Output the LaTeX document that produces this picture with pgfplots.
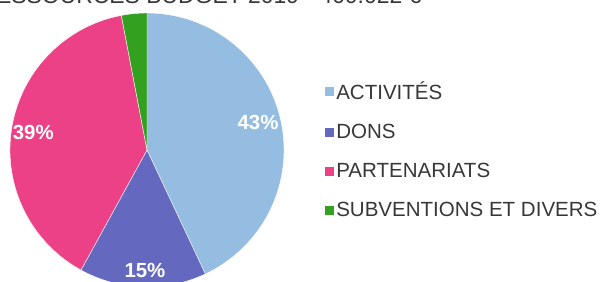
\documentclass[border=0pt]{standalone}
\usepackage{fontspec}
\setmainfont{Liberation Sans}
\usepackage{pgfplots}
\pgfplotsset{compat=1.18}
\definecolor{cAct}{RGB}{149,189,226}
\definecolor{cDon}{RGB}{100,104,190}
\definecolor{cPar}{RGB}{236,64,135}
\definecolor{cSub}{RGB}{52,160,32}
\definecolor{txt}{RGB}{55,55,55}
% shares (%): Activites 43, Dons 15, Partenariats 39, Subventions et divers 3
% slices run clockwise from 90 deg: 3.6 deg per percent
\begin{document}
\begin{tikzpicture}[x=1bp,y=1bp]
\useasboundingbox (0,0) rectangle (604,281);
\clip (0,0) rectangle (604,281);
\begin{axis}[at={(147bp,131bp)}, anchor=center, width=274bp, height=274bp,
  scale only axis, hide axis, xmin=-1, xmax=1, ymin=-1, ymax=1, clip=false,
  legend cell align=left,
  legend image code/.code={\fill[#1,draw=none] (0bp,-4.5bp) rectangle (9bp,4.5bp);},
  legend style={at={(rel axis cs:1.148,0.755)}, anchor=north west, draw=none, fill=none,
    font=\fontsize{20.6}{20.6}\selectfont, text=txt, row sep=20.3bp, inner sep=0pt,
    nodes={inner xsep=2.5bp, inner ysep=1.5bp}},
]
\addplot[fill=cAct, draw=white, line width=0.4pt, domain=-64.8:90, samples=90, variable=\t] ({cos(t)},{sin(t)}) -- (axis cs:0,0) -- cycle;
\addlegendentry{ACTIVITÉS}
\addplot[fill=cDon, draw=white, line width=0.4pt, domain=-118.8:-64.8, samples=40, variable=\t] ({cos(t)},{sin(t)}) -- (axis cs:0,0) -- cycle;
\addlegendentry{DONS}
\addplot[fill=cPar, draw=white, line width=0.4pt, domain=-259.2:-118.8, samples=90, variable=\t] ({cos(t)},{sin(t)}) -- (axis cs:0,0) -- cycle;
\addlegendentry{PARTENARIATS}
\addplot[fill=cSub, draw=white, line width=0.4pt, domain=-270:-259.2, samples=10, variable=\t] ({cos(t)},{sin(t)}) -- (axis cs:0,0) -- cycle;
\addlegendentry{SUBVENTIONS ET DIVERS}
\node[font=\bfseries\fontsize{20.5}{20.5}\selectfont, text=white] at (axis cs:0.81,0.20) {43\%};
\node[font=\bfseries\fontsize{20.5}{20.5}\selectfont, text=white] at (axis cs:-0.83,0.125) {39\%};
\node[font=\bfseries\fontsize{20.5}{20.5}\selectfont, text=white] at (axis cs:-0.015,-0.876) {15\%};
\end{axis}
\node[anchor=base east, font=\fontsize{23}{23}\selectfont, text=txt] at (425,277.3) {RESSOURCES BUDGET 2019 - 400.022 €};
\end{tikzpicture}
\end{document}
